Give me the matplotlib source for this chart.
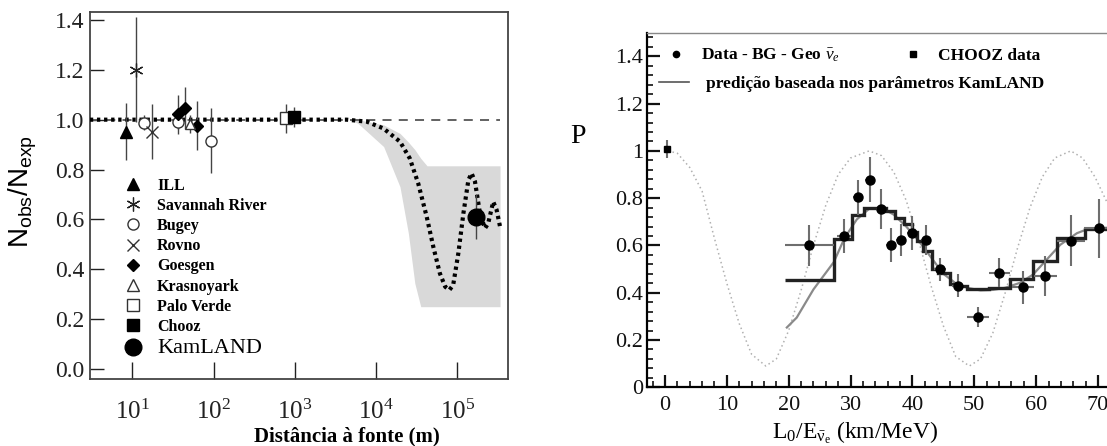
# Figura: razão Nobs/Nexp vs distância (esq.) e probabilidade de sobrevivência vs L0/E (dir.)
import matplotlib
matplotlib.use('Agg')
from matplotlib import pyplot as plt
from matplotlib.lines import Line2D
from matplotlib.ticker import MultipleLocator, LogLocator, LogFormatterMathtext, NullLocator, FuncFormatter

plt.rcParams['font.family'] = ['Liberation Serif', 'DejaVu Serif']
plt.rcParams['mathtext.fontset'] = 'custom'
plt.rcParams['mathtext.rm'] = 'Liberation Serif'
plt.rcParams['mathtext.it'] = 'Liberation Serif:italic'
plt.rcParams['mathtext.bf'] = 'Liberation Serif:bold'
plt.rcParams['mathtext.sf'] = 'Liberation Sans'

# ---------------- dados painel esquerdo ----------------
ill_x, ill_y, ill_err = [8.4], [0.952], [0.114]
sav_x, sav_y, sav_err = [11.0], [1.20], [0.21]
bugey_x, bugey_y, bugey_err = [14.1, 36.8, 92.2], [0.988, 0.992, 0.915], [0.03, 0.03, 0.13]
rovno_x, rovno_y, rovno_err = [17.3], [0.952], [0.11]
goes_x, goes_y, goes_err = [36.8, 45.0, 63.1], [1.021, 1.046, 0.976], [0.077, 0.083, 0.097]
kras_x, kras_y, kras_err = [51.3], [0.983], [0.035]
palo_x, palo_y, palo_err = [780], [1.005], [0.057]
chooz_x, chooz_y, chooz_err = [977], [1.01], [0.04]
kam_x, kam_y, kam_err = [1.7e5], [0.611], [0.09]

# curva de oscilação (pontilhada)
curve_x = [3.0, 4.35e3, 7.7e3, 1.23e4, 1.97e4, 2.6e4, 3.3e4, 4.2e4, 5.07e4, 6.1e4, 7.1e4, 8.0e4,
           8.9e4, 1.03e5, 1.19e5, 1.37e5, 1.5e5, 1.65e5, 1.9e5, 2.19e5, 2.4e5, 2.77e5, 3.05e5, 3.36e5]
curve_y = [1.0, 1.0, 0.992, 0.965, 0.912, 0.845, 0.745, 0.611, 0.49, 0.384, 0.33, 0.317,
           0.337, 0.464, 0.625, 0.758, 0.785, 0.752, 0.625, 0.564, 0.584, 0.671, 0.638, 0.571]

# faixa cinza
band_x = [4.8e3, 6e3, 1.24e4, 1.97e4, 2.5e4, 3.0e4, 3.55e4, 4.24e4, 3.36e5]
band_hi = [1.0, 1.0, 0.979, 0.945, 0.91, 0.88, 0.845, 0.815, 0.815]
band_lo = [1.0, 0.985, 0.892, 0.731, 0.544, 0.344, 0.25, 0.25, 0.25]

dash_x = [3.0, 3.36e5]
dash_y = [1.0, 1.0]

# ---------------- dados painel direito ----------------
data_x = [23.3, 28.9, 31.15, 33.1, 34.9, 36.5, 38.2, 40.0, 42.2, 44.45, 47.3, 50.65, 54.0, 57.9, 61.5, 65.6, 70.2]
data_y = [0.60, 0.642, 0.803, 0.879, 0.754, 0.603, 0.624, 0.652, 0.623, 0.50, 0.43, 0.297, 0.484, 0.424, 0.47, 0.62, 0.673]
data_yerr = [0.088, 0.072, 0.074, 0.095, 0.084, 0.072, 0.068, 0.072, 0.063, 0.049, 0.05, 0.044, 0.061, 0.07, 0.084, 0.107, 0.124]
data_xerr = [3.95, 1.1, 0.8, 0.8, 0.8, 0.8, 0.8, 0.8, 0.8, 0.9, 0.9, 1.75, 1.7, 1.75, 1.9, 2.25, 2.4]

chz_x, chz_y, chz_err = [0.3], [1.008], [0.04]

# histograma de predição (degraus)
step_edges = [19.4, 27.3, 30.3, 32.2, 35.7, 37.2, 38.6, 39.9, 40.7, 41.7, 43.1, 44.2, 46.0, 46.9,
              48.8, 52.3, 55.8, 59.5, 63.3, 67.9, 72.0]
step_vals = [0.455, 0.628, 0.729, 0.760, 0.745, 0.718, 0.690, 0.655, 0.62, 0.575, 0.50, 0.485,
             0.435, 0.43, 0.414, 0.42, 0.46, 0.535, 0.632, 0.668]

# curva de predição suave (cinza)
pred_x = [19.7, 21.3, 24.0, 27.3, 29.0, 31.0, 33.0, 35.0, 37.0, 39.0, 41.0, 43.0, 45.0, 47.0,
          49.0, 51.0, 53.0, 55.0, 57.4, 59.5, 61.7, 63.9, 66.6, 68.7, 72.0]
pred_y = [0.253, 0.295, 0.414, 0.53, 0.63, 0.71, 0.755, 0.76, 0.73, 0.68, 0.62, 0.55, 0.48, 0.44,
          0.42, 0.41, 0.412, 0.421, 0.442, 0.477, 0.54, 0.603, 0.652, 0.673, 0.675]

# oscilação sem média (pontilhado cinza claro)
osc_x = [0.5, 2, 4, 6, 8, 10, 12, 14, 16.3, 18, 20, 22, 24, 26, 28, 30, 33, 35, 37, 39, 41, 43, 45,
         47, 49.2, 51, 53, 55, 57, 59, 61, 63, 65.6, 67.5, 69.5, 71.5]
osc_y = [1.0, 0.99, 0.93, 0.83, 0.63, 0.44, 0.27, 0.14, 0.09, 0.12, 0.24, 0.41, 0.60, 0.77, 0.90,
         0.97, 1.0, 0.98, 0.91, 0.79, 0.62, 0.43, 0.26, 0.13, 0.09, 0.12, 0.23, 0.40, 0.59, 0.76,
         0.89, 0.97, 1.0, 0.97, 0.89, 0.78]

fig = plt.figure(figsize=(11.07, 4.46), dpi=100)

# ================= painel esquerdo =================
ax1 = fig.add_axes([0.0813, 0.1496, 0.3779, 0.8242])
ax1.set_xscale('log')
ax1.fill_between(band_x, band_lo, band_hi, color='#d9d9d9', lw=0, zorder=1)
ax1.plot(dash_x, dash_y, ls=(0, (5, 4)), color='#555555', lw=1.3, zorder=2)
ax1.plot(curve_x, curve_y, ls=(0, (0.8, 0.9)), color='k', lw=3.0, zorder=3)

ek = dict(ecolor='#444444', elinewidth=1.0, capsize=0, ls='none', zorder=4)
ax1.errorbar(ill_x, ill_y, yerr=ill_err, marker='^', ms=8, mfc='k', mec='k', **ek)
ax1.errorbar(sav_x, sav_y, yerr=sav_err, marker=(6, 2, 0), ms=10, mfc='k', mec='#222', mew=0.9, **ek)
ax1.errorbar(bugey_x, bugey_y, yerr=bugey_err, marker='o', ms=8, mfc='white', mec='#333', mew=1.0, **ek)
ax1.errorbar(rovno_x, rovno_y, yerr=rovno_err, marker='x', ms=8, mfc='k', mec='#333', mew=1.0, **ek)
ax1.errorbar(goes_x, goes_y, yerr=goes_err, marker='D', ms=6.5, mfc='k', mec='k', **ek)
ax1.errorbar(kras_x, kras_y, yerr=kras_err, marker='^', ms=7, mfc='white', mec='#333', mew=1.0, **ek)
ax1.errorbar(palo_x, palo_y, yerr=palo_err, marker='s', ms=8, mfc='white', mec='#333', mew=1.0, **ek)
ax1.errorbar(chooz_x, chooz_y, yerr=chooz_err, marker='s', ms=8, mfc='k', mec='k', **ek)
ax1.errorbar(kam_x, kam_y, yerr=kam_err, marker='o', ms=12, mfc='k', mec='k', **ek)

ax1.set_xlim(3.01, 4.25e5)
ax1.set_ylim(-0.041, 1.433)
ax1.yaxis.set_major_locator(MultipleLocator(0.2))
ax1.yaxis.set_major_formatter(FuncFormatter(lambda v, p: f'{v:.1f}'))
ax1.xaxis.set_major_locator(LogLocator(base=10, numticks=10))
ax1.xaxis.set_major_formatter(LogFormatterMathtext())
ax1.xaxis.set_minor_locator(NullLocator())
ax1.tick_params(axis='y', direction='in', length=10, width=1, labelsize=17, pad=4, colors='#222')
ax1.tick_params(axis='x', direction='in', length=12, width=1, labelsize=18, pad=15, colors='#222')
for s in ax1.spines.values():
    s.set_color('#444')
    s.set_linewidth(1.3)

handles = [
    Line2D([], [], ls='none', marker='^', ms=8, mfc='k', mec='k'),
    Line2D([], [], ls='none', marker=(6, 2, 0), ms=10, mec='#222', mew=0.9),
    Line2D([], [], ls='none', marker='o', ms=8, mfc='white', mec='#333'),
    Line2D([], [], ls='none', marker='x', ms=8, mec='#333'),
    Line2D([], [], ls='none', marker='D', ms=6.5, mfc='k', mec='k'),
    Line2D([], [], ls='none', marker='^', ms=8, mfc='white', mec='#333'),
    Line2D([], [], ls='none', marker='s', ms=8, mfc='white', mec='#333'),
    Line2D([], [], ls='none', marker='s', ms=8, mfc='k', mec='k'),
    Line2D([], [], ls='none', marker='o', ms=12, mfc='k', mec='k'),
]
labels = ['ILL', 'Savannah River', 'Bugey', 'Rovno', 'Goesgen', 'Krasnoyark', 'Palo Verde', 'Chooz', 'KamLAND']
leg = ax1.legend(handles, labels, loc='upper left', bbox_to_anchor=(0.065, 0.570), frameon=False,
                 borderpad=0, handlelength=1.0, handletextpad=1.0, labelspacing=0.26,
                 prop={'weight': 'bold', 'size': 11.5})
leg.get_texts()[-1].set_fontweight('normal')
leg.get_texts()[-1].set_fontsize(16)

fig.text(0.3135, 0.0224, 'Distância à fonte (m)', ha='center', va='center', fontsize=15, fontweight='bold')
fig.text(0.0208, 0.5695, r'$\mathsf{N_{obs}/N_{exp}}$', ha='center', va='center', rotation=90, fontsize=20)

# ================= painel direito =================
ax2 = fig.add_axes([0.5847, 0.1316, 0.4153, 0.7951])
ax2.plot(osc_x, osc_y, ls=(0, (1, 2)), color='#b0b0b0', lw=1.1, zorder=1)
ax2.plot(pred_x, pred_y, color='#8a8a8a', lw=1.6, zorder=2)
ax2.stairs(step_vals, step_edges, color='#222222', lw=2.4, baseline=None, zorder=3)
ax2.errorbar(data_x, data_y, yerr=data_yerr, xerr=data_xerr, fmt='o', ms=6.5, mfc='k', mec='k',
             ecolor='#6e6e6e', elinewidth=1.5, capsize=0, zorder=4)
ax2.errorbar(chz_x, chz_y, yerr=chz_err, fmt='s', ms=5, mfc='k', mec='k',
             ecolor='#6e6e6e', elinewidth=1.5, capsize=0, zorder=4)

ax2.set_xlim(-2.86, 71.45)
ax2.set_ylim(0, 1.5)
ax2.xaxis.set_major_locator(MultipleLocator(10))
ax2.xaxis.set_minor_locator(MultipleLocator(2))
ax2.yaxis.set_major_locator(MultipleLocator(0.2))
ax2.yaxis.set_minor_locator(MultipleLocator(0.04))
ax2.yaxis.set_major_formatter(FuncFormatter(lambda v, p: f'{v:g}'))
ax2.tick_params(which='major', direction='in', length=9, width=1.6, labelsize=16, colors='#111')
ax2.tick_params(which='minor', direction='in', length=4.5, width=1.2, colors='#111')
ax2.tick_params(axis='y', pad=3)
ax2.tick_params(axis='x', pad=6)
ax2.spines['right'].set_visible(False)
ax2.spines['top'].set_color('#888')
ax2.spines['top'].set_linewidth(1.0)
ax2.spines['left'].set_linewidth(1.6)
ax2.spines['bottom'].set_linewidth(1.6)

lg_kw = dict(frameon=False, borderpad=0, prop={'weight': 'bold', 'size': 12.5}, loc='center left')
l1 = ax2.legend([Line2D([], [], ls='none', marker='o', ms=4.5, color='k')],
                [r'Data - BG - Geo $\bar{\nu}_e$'], bbox_to_anchor=(0.024, 0.935),
                handlelength=1.0, handletextpad=0.94, **lg_kw)
ax2.add_artist(l1)
l2 = ax2.legend([Line2D([], [], ls='none', marker='s', ms=4, color='k')],
                ['CHOOZ data'], bbox_to_anchor=(0.540, 0.935),
                handlelength=1.0, handletextpad=0.94, **lg_kw)
ax2.add_artist(l2)
ax2.legend([Line2D([], [], color='#555', lw=1.2)],
           ['predição baseada nos parâmetros KamLAND'], bbox_to_anchor=(0.006, 0.856),
           handlelength=1.72, handletextpad=1.0, **lg_kw)

fig.text(0.522, 0.693, 'P', ha='center', va='center', fontsize=20)
fig.text(0.7724, 0.029, r'$\mathrm{L_0/E_{\bar{\nu}_e}}$ (km/MeV)', ha='center', va='center', fontsize=17)

fig.savefig('out.png', dpi=100)
